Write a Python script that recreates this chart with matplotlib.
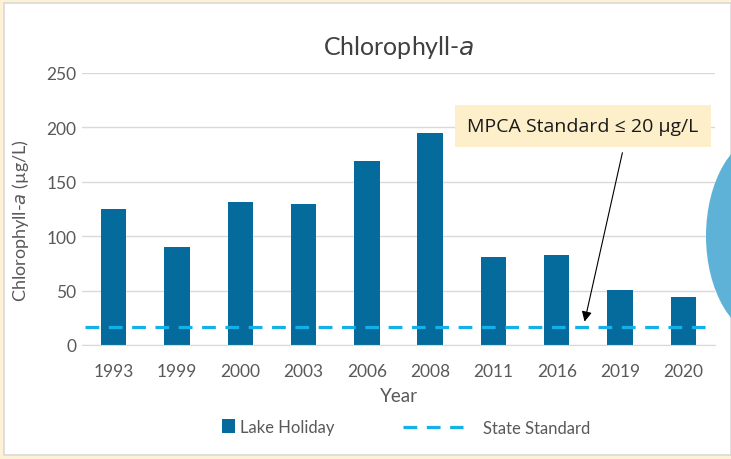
import matplotlib.pyplot as plt
from matplotlib.patches import Rectangle, Ellipse
import numpy as np

# Data
years = ['1993', '1999', '2000', '2003', '2006', '2008', '2011', '2016', '2019', '2020']
chl_a = [125, 90, 131, 130, 169, 195, 81, 83, 51, 44]
state_standard = 17

bar_color = '#056b9c'
dash_color = '#14b0e8'
text_color = '#595959'

plt.rcParams['font.family'] = ['Lato', 'DejaVu Sans']

fig = plt.figure(figsize=(7.31, 4.60), dpi=100)
fig.patch.set_facecolor('#fdf1d6')

# background axes: white panel with thin grey border
bg = fig.add_axes([0, 0, 1, 1], zorder=-10)
bg.set_xlim(0, 731)
bg.set_ylim(460, 0)
bg.axis('off')
bg.add_patch(Rectangle((4, 4), 727, 452, facecolor='white', edgecolor='#d9d9d9', linewidth=1.2))

ax = fig.add_axes([82 / 731, 1 - 346 / 460, 633 / 731, 272 / 460])
ax.set_facecolor('none')

x = np.arange(len(years))
bars = ax.bar(x, chl_a, width=0.4, color=bar_color, label='Lake Holiday', zorder=2)
std = ax.hlines(state_standard, -0.45, len(years) - 0.55, colors=dash_color, linestyles=(0, (4.3, 3)),
                linewidth=2.3, label='State Standard', zorder=3)

ax.set_xlim(-0.5, len(years) - 0.5)
ax.set_ylim(0, 250)
ax.set_yticks(np.arange(0, 251, 50))
ax.set_xticks(x)
ax.set_xticklabels(years)
ax.grid(axis='y', color='#d9d9d9', linewidth=1, zorder=0)
ax.set_axisbelow(True)
for s in ['top', 'right', 'left']:
    ax.spines[s].set_visible(False)
ax.spines['bottom'].set_color('#d9d9d9')
ax.tick_params(length=0, labelsize=12.5, colors=text_color)
ax.tick_params(axis='x', pad=13)
ax.tick_params(axis='y', pad=4)

ax.set_title('Chlorophyll-$\\mathit{a}$', fontsize=18, color='#404040', pad=14)
ax.set_ylabel('Chlorophyll-$\\mathit{a}$ (µg/L)', fontsize=13, color=text_color)
ax.yaxis.set_label_coords(-0.08, 0.46)
ax.set_xlabel('Year', fontsize=13.5, color=text_color, labelpad=6)

leg1 = fig.legend([bars], ['Lake Holiday'], loc='center', bbox_to_anchor=(278 / 731, 1 - 428 / 460),
                  frameon=False, fontsize=12, handlelength=0.75, handleheight=0.9, handletextpad=0.3)
leg2 = fig.legend([std], ['State Standard'], loc='center', bbox_to_anchor=(497 / 731, 1 - 429 / 460),
                  frameon=False, fontsize=12, handlelength=3.6, handletextpad=1.2)
for leg in (leg1, leg2):
    for t in leg.get_texts():
        t.set_color(text_color)

# callout box and arrow
fig.text(583 / 731, 1 - 127 / 460, 'MPCA Standard ≤ 20 µg/L', ha='center', va='center',
         fontsize=14, color='#1a1a1a', family=['Open Sans', 'DejaVu Sans'],
         bbox=dict(boxstyle='square,pad=0.62', facecolor='#fdefca', edgecolor='none'))
ax.annotate('', xy=(7.43, state_standard + 2), xycoords='data',
            xytext=(623 / 731, 1 - 151 / 460), textcoords='figure fraction',
            arrowprops=dict(arrowstyle='-|>', color='black', lw=0.8, mutation_scale=15))

# blue shape on the right edge
fig.patches.append(Ellipse((768 / 731, 1 - 237 / 460), 124 / 731, 204 / 460, transform=fig.transFigure,
                           facecolor='#5eb2d8', edgecolor='none', zorder=5))

fig.savefig('out.png', dpi=100, facecolor=fig.get_facecolor())
